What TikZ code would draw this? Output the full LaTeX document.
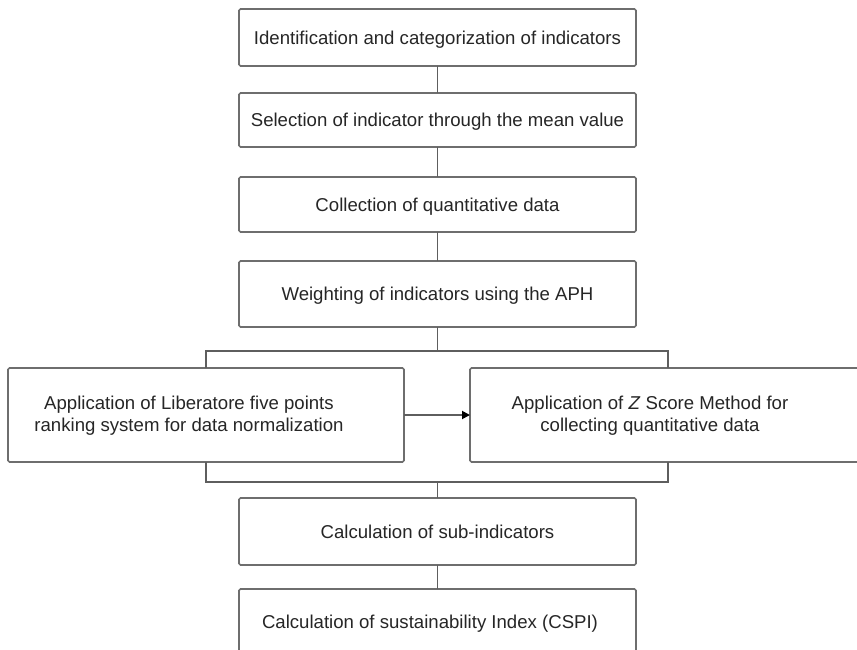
\documentclass[tikz,border=0pt]{standalone}
\usepackage{fontspec}
\setmainfont{Liberation Sans}
\usetikzlibrary{arrows.meta}
\definecolor{boxline}{HTML}{6E6E6E}
\definecolor{conline}{HTML}{5E5E5E}
\definecolor{txtcol}{HTML}{262626}
\tikzset{
  flowbox/.style={draw=boxline, line width=1.6pt, rounded corners=1.5pt, fill=white,
    inner sep=0pt, outer sep=0pt, minimum width=397pt, text=txtcol, text depth=0pt,
    font=\fontsize{18.6}{22}\selectfont, align=center},
  sidebox/.style={flowbox, minimum width=396pt, minimum height=94pt},
  boxtext/.style={inner sep=0pt, text=txtcol, font=\fontsize{18.6}{22}\selectfont, align=center},
  conn/.style={draw=conline, line width=1.2pt},
  branch/.style={draw=conline, line width=1.7pt},
  arr/.style={draw=conline, line width=1.8pt, -{Triangle[length=8pt,width=8pt,color=black]}}
}
\begin{document}
\begin{tikzpicture}[x=1pt,y=-1pt]
\useasboundingbox (0,0) rectangle (857,650);
\clip (0,0) rectangle (857,650);
\node[flowbox, minimum height=57pt] (b1) at (437.5,37.5) {Identification and categorization of indicators};
\node[flowbox, minimum height=54pt] (b2) at (437.5,120) {Selection of indicator through the mean value};
\node[flowbox, minimum height=55pt] (b3) at (437.5,204.5) {Collection of quantitative data};
\node[flowbox, minimum height=66pt] (b4) at (437.5,294) {Weighting of indicators using the APH};
\node[sidebox] (L) at (206,415) {};
\node[boxtext] (Lt) at (189,416) {Application of Liberatore five points\\ranking system for data normalization};
\node[sidebox] (R) at (668,415) {};
\node[boxtext] (Rt) at (650,416) {Application of \textit{Z} Score Method for\\collecting quantitative data};
\node[flowbox, minimum height=67pt] (b5) at (437.5,531.5) {Calculation of sub-indicators};
\node[flowbox, minimum height=92pt] (b6) at (437.5,635) {};
\node[boxtext] (b6t) at (430,624) {Calculation of sustainability Index (CSPI)};
\coordinate (jt) at (437.5,351);
\coordinate (jb) at (437.5,482);
\draw[conn] (b1.south) -- (b2.north);
\draw[conn] (b2.south) -- (b3.north);
\draw[conn] (b3.south) -- (b4.north);
\draw[conn] (b4.south) -- (jt);
\draw[branch] (L.north) |- (jt) -| (R.north);
\draw[branch] (L.south) |- (jb) -| (R.south);
\draw[conn] (jb) -- (b5.north);
\draw[conn] (b5.south) -- (b6.north);
\draw[arr] (L.east) -- (R.west);
\end{tikzpicture}
\end{document}
